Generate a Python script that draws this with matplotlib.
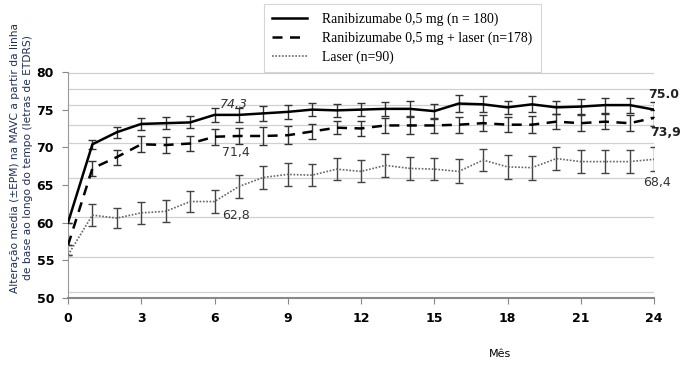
import numpy as np
import matplotlib
matplotlib.use("Agg")
import matplotlib.pyplot as plt
from matplotlib.lines import Line2D

# meses e valores
meses = list(range(0, 25))
ranib = [60.0, 70.4, 72.0, 73.1, 73.2, 73.3, 74.3, 74.3, 74.5, 74.7, 75.0, 74.9, 75.0,
         75.1, 75.1, 74.8, 75.8, 75.7, 75.3, 75.7, 75.3, 75.4, 75.6, 75.6, 75.0]
ranib_err = [0.0, 0.6, 0.75, 0.8, 0.8, 0.8, 0.95, 0.9, 0.95, 0.9, 0.9, 0.9, 0.9,
             0.95, 1.0, 1.0, 1.1, 1.05, 0.9, 1.05, 0.9, 1.0, 1.0, 1.0, 1.0]
ranib_laser = [57.0, 67.2, 68.7, 70.4, 70.3, 70.5, 71.4, 71.5, 71.5, 71.6, 72.1, 72.6, 72.5,
               72.9, 72.9, 72.9, 73.0, 73.2, 73.0, 73.0, 73.4, 73.2, 73.4, 73.2, 73.9]
ranib_laser_err = [0.0, 1.0, 1.0, 1.05, 1.1, 1.05, 1.05, 1.1, 1.15, 1.2, 1.05, 0.9, 1.0,
                   1.05, 1.15, 1.05, 1.05, 1.05, 1.0, 1.1, 1.0, 1.05, 1.0, 1.1, 1.1]
laser = [55.7, 61.0, 60.6, 61.3, 61.5, 62.8, 62.8, 64.8, 66.0, 66.4, 66.3, 67.1, 66.8,
         67.6, 67.2, 67.1, 66.8, 68.3, 67.4, 67.3, 68.5, 68.1, 68.1, 68.1, 68.4]
laser_err = [0.0, 1.45, 1.3, 1.45, 1.45, 1.45, 1.5, 1.55, 1.55, 1.55, 1.5, 1.5, 1.45,
             1.55, 1.5, 1.5, 1.6, 1.5, 1.6, 1.6, 1.55, 1.55, 1.55, 1.55, 1.6]

nomes = ['Ranibizumabe 0,5 mg (n = 180)',
         'Ranibizumabe 0,5 mg + laser (n=178)',
         'Laser (n=90)']

fig = plt.figure(figsize=(6.82, 3.67), dpi=100)
ax = fig.add_axes([0.0997, 0.188, 0.8593, 0.616])

# linhas de grade (posicoes irregulares como no original)
for g in [50.75, 55.5, 60.7, 65.9, 70.6, 73.0, 75.6, 77.8, 79.9]:
    ax.axhline(g, color='#d0d0d0', lw=0.9, zorder=0)

x = np.array(meses)
ax.errorbar(x, ranib, yerr=ranib_err, fmt='none', ecolor='#333333', elinewidth=1,
            capsize=3, capthick=1, zorder=2)
ax.errorbar(x, ranib_laser, yerr=ranib_laser_err, fmt='none', ecolor='#333333',
            elinewidth=1, capsize=3, capthick=1, zorder=2)
ax.errorbar(x, laser, yerr=laser_err, fmt='none', ecolor='#444444', elinewidth=1,
            capsize=3, capthick=1, zorder=2)

ax.plot(x, ranib, color='black', lw=1.8, zorder=3)
ax.plot(x, ranib_laser, color='black', lw=1.8, linestyle=(0, (4, 3)), zorder=3)
ax.plot(x, laser, color='#666666', lw=1.2, linestyle=(0, (1, 1)), zorder=3)

ax.set_xlim(0, 24)
ax.set_ylim(50, 80)
ax.set_xticks(range(0, 25, 3))
ax.set_yticks(range(50, 81, 5))
for lab in ax.get_xticklabels() + ax.get_yticklabels():
    lab.set_fontweight('bold')
    lab.set_fontsize(9)
ax.tick_params(axis='both', direction='out', length=4, color='#888888', pad=6)

for s in ['top', 'right']:
    ax.spines[s].set_visible(False)
ax.spines['left'].set_color('#999999')
ax.spines['bottom'].set_color('#888888')
ax.spines['bottom'].set_linewidth(1.5)

ax.set_ylabel('Alteração media (±EPM) na MAVC a partir da linha\nde base ao longo do tempo (letras de ETDRS)',
              fontsize=7.7, color='#1f2d5a', linespacing=1.45)
ax.yaxis.set_label_coords(-0.059, 0.62)
fig.text(0.733, 0.035, 'Mês', fontsize=8, ha='center', va='center')

# rotulos de valores
ax.text(6.2, 75.7, '74,3', fontsize=9, style='italic', color='#333333', va='center')
ax.text(6.3, 69.3, '71,4', fontsize=9, color='#333333', va='center')
ax.text(6.3, 61.0, '62,8', fontsize=9, color='#333333', va='center')
ax.text(23.75, 77.0, '75.0', fontsize=9, fontweight='bold', color='#222222', va='center')
ax.text(23.85, 72.0, '73,9', fontsize=9, fontweight='bold', color='#222222', va='center')
ax.text(23.55, 65.3, '68,4', fontsize=9, color='#333333', va='center')

handles = [Line2D([], [], color='black', lw=1.8),
           Line2D([], [], color='black', lw=1.8, linestyle=(0, (4, 3))),
           Line2D([], [], color='#666666', lw=1.2, linestyle=(0, (1, 1)))]
leg = fig.legend(handles, nomes, loc='upper left', bbox_to_anchor=(0.387, 0.989),
                 borderaxespad=0,
                 prop={'family': 'Liberation Serif', 'size': 9.9}, frameon=True,
                 fancybox=False, edgecolor='#cccccc', handlelength=2.5,
                 labelspacing=0.4, borderpad=0.6, handletextpad=1.15)
leg.get_frame().set_linewidth(0.8)

fig.savefig('out.png', dpi=100)
